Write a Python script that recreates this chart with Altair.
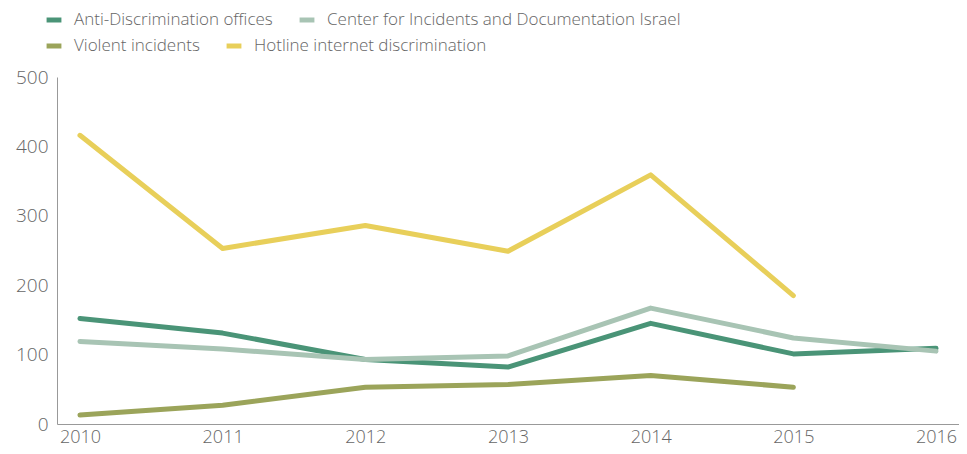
import altair as alt
import pandas as pd

years = ["2010", "2011", "2012", "2013", "2014", "2015", "2016"]
series_names = [
    "Anti-Discrimination offices",
    "Center for Incidents and Documentation Israel",
    "Violent incidents",
    "Hotline internet discrimination",
]
anti_discrimination = [152, 131, 93, 82, 145, 101, 109]
center_incidents = [119, 108, 93, 98, 167, 124, 105]
violent_incidents = [13, 27, 53, 57, 70, 53, None]
hotline_internet = [416, 253, 286, 249, 359, 185, None]
colors = ["#4a9477", "#a8c4b4", "#9ba45a", "#e8cf5a"]

rows = []
for name, vals in zip(series_names, [anti_discrimination, center_incidents, violent_incidents, hotline_internet]):
    for y, v in zip(years, vals):
        if v is not None:
            rows.append({"year": y, "series": name, "value": v})
df = pd.DataFrame(rows)

font = "Open Sans"

x_enc = alt.X("year:O", sort=years, scale=alt.Scale(type="point", padding=0.161),
              axis=alt.Axis(title=None, labelAngle=0, ticks=False, grid=False,
                            domainColor="#999999", labelFontSize=18, labelColor="#666666",
                            labelFont=font, labelFontWeight=300, labelPadding=4))
y_enc = alt.Y("value:Q", scale=alt.Scale(domain=[0, 500], nice=False),
              axis=alt.Axis(title=None, values=[0, 100, 200, 300, 400, 500], ticks=False, grid=False,
                            domainColor="#999999", labelFontSize=19, labelColor="#666666",
                            labelFont=font, labelFontWeight=300, labelPadding=9))


def legend(y):
    return alt.Legend(title=None, orient="none", legendX=-13, legendY=y,
                      direction="horizontal",
                      symbolType="stroke", symbolSize=220, symbolStrokeWidth=5,
                      labelFontSize=17, labelFont=font, labelFontWeight=300,
                      labelColor="#666666", labelOffset=10, labelLimit=600,
                      columnPadding=16)


def layer(names, cols, ly):
    return alt.Chart(df).transform_filter(
        alt.FieldOneOfPredicate(field="series", oneOf=names)
    ).mark_line(strokeWidth=5, strokeCap="round", strokeJoin="round").encode(
        x=x_enc,
        y=y_enc,
        color=alt.Color("series:N", scale=alt.Scale(domain=names, range=cols), legend=legend(ly)),
        detail="series:N",
    )


row1 = layer(series_names[:2], colors[:2], -67)
row2 = layer(series_names[2:], colors[2:], -41)

chart = alt.layer(row2, row1).resolve_scale(color="independent").properties(
    width=902, height=347,
    autosize=alt.AutoSizeParams(type="none"),
    padding={"left": 49, "top": 69, "right": 0, "bottom": 22},
).configure_view(stroke=None)

chart.save("out.html", embed_options={"renderer": "svg", "actions": False})
